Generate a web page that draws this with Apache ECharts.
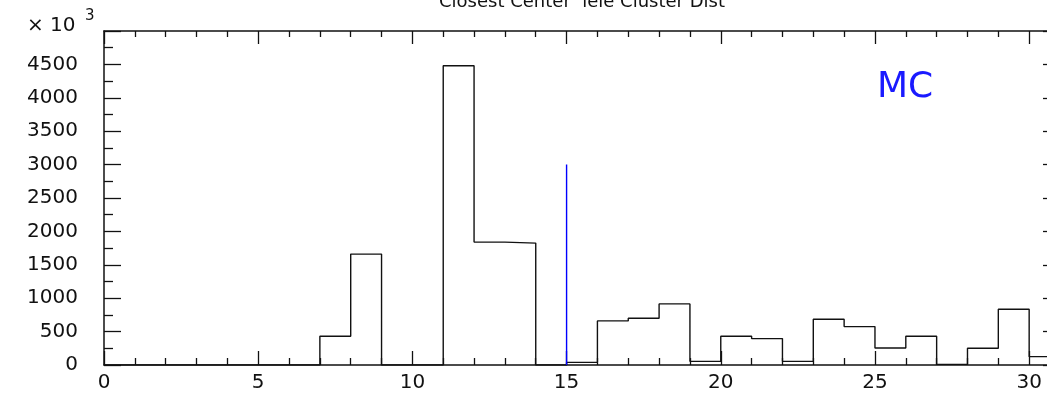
<!DOCTYPE html>
<html>
<head>
<meta charset="utf-8">
<script src="https://cdn.jsdelivr.net/npm/echarts@6/dist/echarts.min.js"></script>
<style>
  html, body { margin: 0; padding: 0; background: #fff; overflow: hidden; width: 1047px; height: 393px; }
  /* the drawing is a bit wider than the page so the frame's right side runs off the edge */
  #chart { width: 1070px; height: 393px; }
</style>
</head>
<body>
<div id="chart"></div>
<script>
// Histogram of closest-center cluster distance (counts in units of 10^3)
const binEdgesStart = 0;
const binWidth = 1;
const binCounts = [
  0, 0, 0, 0, 0, 0, 0, 430, 1660, 0,
  0, 4480, 1840, 1825, 0, 40, 660, 700, 915, 55,
  430, 395, 55, 685, 575, 255, 430, 10, 250, 835,
  125
];
const xTickLabels = [0, 5, 10, 15, 20, 25, 30];
const yTickLabels = [0, 500, 1000, 1500, 2000, 2500, 3000, 3500, 4000, 4500];
const cutX = 15;
const cutHeight = 3000;

// Step outline: each point is the left edge of a bin, plus the final right edge
const stepPoints = binCounts.map((v, i) => [binEdgesStart + i * binWidth, v]);
stepPoints.push([binEdgesStart + binCounts.length * binWidth, binCounts[binCounts.length - 1]]);

const xMax = binEdgesStart + binCounts.length * binWidth;
const font = 'DejaVu Sans';
const ink = '#111';

const tickStyle = { color: ink, width: 1.3 };
const chart = echarts.init(document.getElementById('chart'), null, { renderer: 'canvas' });

chart.setOption({
  animation: false,
  backgroundColor: '#fff',
  title: {
    text: 'Closest Center  lele Cluster Dist',
    left: 577,
    top: -12,
    textAlign: 'center',
    textStyle: { fontFamily: font, fontSize: 18, fontWeight: 'normal', color: ink }
  },
  graphic: [
    { type: 'text', left: 27, top: 16, style: { text: '× 10', font: '20px "DejaVu Sans"', fill: ink } },
    { type: 'text', left: 85, top: 9, style: { text: '3', font: '15px "DejaVu Sans"', fill: ink } },
    { type: 'text', left: 877, top: 70, style: { text: 'MC', font: '36px "DejaVu Sans"', fill: '#1a1aff' } }
  ],
  grid: { left: 104, top: 31, right: 10, bottom: 28, containLabel: false },
  xAxis: [
    {
      type: 'value', position: 'bottom', min: 0, max: xMax, interval: 5,
      axisLine: { show: true, onZero: false, lineStyle: { color: ink, width: 1.5 } },
      axisTick: { show: true, inside: true, length: 14, lineStyle: tickStyle },
      minorTick: { show: true, splitNumber: 5, length: 7, lineStyle: tickStyle },
      splitLine: { show: false },
      axisLabel: {
        margin: 8, color: ink, fontFamily: font, fontSize: 20,
        formatter: v => (xTickLabels.indexOf(v) >= 0 ? String(v) : '')
      }
    },
    {
      type: 'value', position: 'top', min: 0, max: xMax, interval: 5,
      axisLine: { show: true, onZero: false, lineStyle: { color: ink, width: 1.5 } },
      axisTick: { show: true, inside: true, length: 13, lineStyle: tickStyle },
      minorTick: { show: true, splitNumber: 5, length: 6, lineStyle: tickStyle },
      splitLine: { show: false },
      axisLabel: { show: false }
    }
  ],
  yAxis: [
    {
      type: 'value', position: 'left', min: 0, max: 5000, interval: 500,
      axisLine: { show: true, onZero: false, lineStyle: { color: ink, width: 1.5 } },
      axisTick: { show: true, inside: true, length: 17, lineStyle: tickStyle },
      minorTick: { show: true, splitNumber: 2, length: 9, lineStyle: tickStyle },
      splitLine: { show: false },
      axisLabel: {
        margin: 26, color: ink, fontFamily: font, fontSize: 20,
        formatter: v => (yTickLabels.indexOf(v) >= 0 ? String(v) : '')
      }
    },
    {
      type: 'value', position: 'right', min: 0, max: 5000, interval: 500,
      axisLine: { show: true, onZero: false, lineStyle: { color: ink, width: 1.5 } },
      axisTick: { show: true, inside: true, length: 17, lineStyle: tickStyle },
      minorTick: { show: true, splitNumber: 2, length: 9, lineStyle: tickStyle },
      splitLine: { show: false },
      axisLabel: { show: false }
    }
  ],
  series: [
    {
      name: 'MC',
      type: 'line',
      step: 'end',
      xAxisIndex: 0, yAxisIndex: 0,
      data: stepPoints,
      symbol: 'none',
      lineStyle: { color: ink, width: 1.4 },
      z: 3
    },
    {
      name: 'cut',
      type: 'line',
      xAxisIndex: 0, yAxisIndex: 0,
      data: [[cutX, 0], [cutX, cutHeight]],
      symbol: 'none',
      lineStyle: { color: '#0000ff', width: 1.4 },
      z: 4
    }
  ]
});
</script>
</body>
</html>
